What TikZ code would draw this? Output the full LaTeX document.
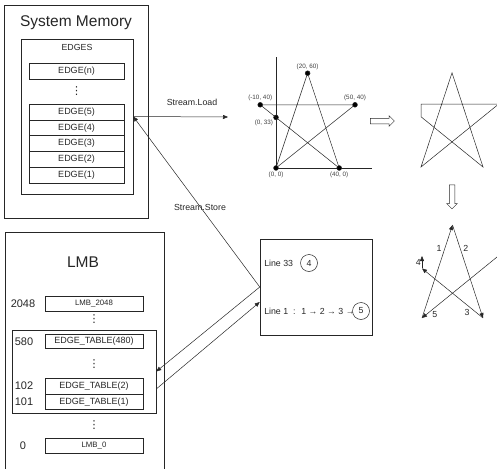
\documentclass[tikz,border=0pt]{standalone}
\usepackage{fontspec}
\setmainfont{Liberation Sans}
\newfontfamily\simbolos{DejaVu Sans}
\usetikzlibrary{arrows.meta,shapes.arrows}

\begin{document}
\begin{tikzpicture}[x=1pt,y=-1pt,line width=.5pt,color=black!85]
% Estilos
\tikzset{caixa/.style={draw,minimum width=95pt,minimum height=15.8pt,inner sep=0pt,font=\fontsize{9}{10}\selectfont},
  moldura/.style={draw,inner sep=0pt},
  titulo/.style={font=\fontsize{15.5}{18}\selectfont},
  texto/.style={font=\fontsize{8.8}{10}\selectfont,inner sep=1pt},
  numero/.style={font=\fontsize{11}{12}\selectfont},
  pontos/.style={inner sep=0pt,font=\simbolos\fontsize{11}{11}\selectfont},
  black vertex/.style={circle,draw,minimum size=1.7mm,inner sep=0pt,outer sep=0pt,fill=black},
  rotulo/.style={font=\fontsize{6.3}{7}\selectfont,inner sep=1pt,text=black!75},
  circulo/.style={circle,draw,minimum size=17pt,inner sep=0pt,font=\fontsize{8.8}{10}\selectfont},
  seta/.style={-{Triangle[length=5pt,width=4pt]}},
  oca/.style={single arrow,draw,minimum height=24pt,inner xsep=0pt,inner ysep=2.5pt,single arrow head extend=2.5pt}}

\useasboundingbox (0,0) rectangle (497,468);

% Memória do sistema
\node[moldura,minimum width=144pt,minimum height=213pt] (memoria) at (76,111.5) {};
\node[titulo] (tmem) at (76,23) {System Memory};
\node[moldura,minimum width=112pt,minimum height=155pt] (edges) at (77,116.5) {};
\node[texto] (tedges) at (77,47) {EDGES};
\node[caixa] (en) at (76.5,71.5) {EDGE(n)};
\node[pontos] (d1) at (76.5,91.5) {⋮};
\foreach \i in {5,...,1}
  \node[caixa] (e\i) at (76.5,{111.9+(5-\i)*15.8}) {EDGE(\i)};

% LMB
\node[moldura,minimum width=159pt,minimum height=250pt] (lmb) at (84.5,357) {};
\node[titulo] (tlmb) at (83,262) {LMB};
\node[moldura,minimum width=144pt,minimum height=83pt] (tabela) at (84,371.5) {};
\node[numero] (n2048) at (23,303.5) {2048};
\node[numero] (n580) at (24,341.5) {580};
\node[numero] (n102) at (24,386) {102};
\node[numero] (n101) at (24,401.5) {101};
\node[numero] (n0) at (23,445.5) {0};
\node[caixa,minimum width=98pt,minimum height=15pt,font=\fontsize{7.8}{9}\selectfont] (lmbtop) at (94,303.5) {LMB\_2048};
\node[pontos] (d2) at (94,319) {⋮};
\node[caixa,minimum width=98pt,minimum height=14pt] (t480) at (94,341.5) {EDGE\_TABLE(480)};
\node[pontos] (d3) at (94,364) {⋮};
\node[caixa,minimum width=98pt,minimum height=16pt] (t2) at (94,386) {EDGE\_TABLE(2)};
\node[caixa,minimum width=98pt,minimum height=15.5pt] (t1) at (94,401.7) {EDGE\_TABLE(1)};
\node[pontos] (d4) at (94,425) {⋮};
\node[caixa,minimum width=98pt,minimum height=15pt,font=\fontsize{7.8}{9}\selectfont] (lmb0) at (94,445.5) {LMB\_0};

% Caixa das linhas
\node[moldura,minimum width=112pt,minimum height=96pt] (linha) at (316,287) {};
\node[texto,anchor=west] (l33) at (263,263) {Line 33};
\node[circulo] (c4) at (309,263) {4};
\node[texto,anchor=west] (l1) at (263,311) {Line 1 \ : \ 1 → 2 → 3 →};
\node[circulo] (c5) at (361,311) {5};

% Conexões
\coordinate (carga) at (228,117);
\draw[seta] (edges.east) -- (carga);
\node[texto] (tload) at (192,102) {Stream.Load};
\draw[seta] (linha.west) -- (edges.east);
\node[texto] (tstore) at (200,207) {Stream.Store};
\draw[seta] (linha.west) -- (tabela.east);
\draw[seta] ([yshift=-17.5pt]tabela.east) -- ([yshift=-15pt]linha.west);

% Grafo com coordenadas
\begin{scope}[shift={(276,168)},x=1.58pt,y=1.58pt]
\draw (0,70) -- (0,0) -- (61,0);
\node[black vertex,label={[rotulo]below:(0, 0)}] (p0) at (0,0) {};
\node[black vertex,label={[rotulo]above:(20, 60)}] (p1) at (20,60) {};
\node[black vertex,label={[rotulo]below:(40, 0)}] (p2) at (40,0) {};
\node[black vertex,label={[rotulo]above:(-10, 40)}] (p3) at (-10,40) {};
\node[black vertex,label={[rotulo]above:(50, 40)}] (p4) at (50,40) {};
\node[black vertex,label={[rotulo]below left:(0, 33)}] (p5) at (0,32) {};
\draw (p0) -- (p1) -- (p2) -- (p3) -- (p4) -- (p0);
\end{scope}

\node[oca] (dir) at (381,121) {};
\node[oca,rotate=-90] (baixo) at (452,195.5) {};

% Estrela recortada
\begin{scope}[shift={(421,167)},x=1.55pt,y=1.57pt]
\draw (0,0) -- (20,60) -- (40,0) -- (0,32) -- (0,40) -- (50,40) -- cycle;
\end{scope}

% Ordem do percurso
\begin{scope}[shift={(422,318)},x=1.525pt,y=1.55pt]
\coordinate (q0) at (0,0);
\coordinate (q1) at (20,60);
\coordinate (q2) at (40,0);
\coordinate (q3) at (0,32);
\coordinate (q4) at (0,40);
\coordinate (q5) at (50,40);
\draw[seta] (q0) -- node[texto,pos=.75,left=2pt] {1} (q1);
\draw[seta] (q1) -- node[texto,pos=.25,right=2pt] {2} (q2);
\draw[seta] (q2) -- node[texto,pos=.2,below left=0pt] {3} (q3);
\draw[seta] (q3) -- node[texto,left=0pt] {4} (q4);
\draw[seta] (q5) -- node[texto,pos=.88,below right=0pt] {5} (q0);
\end{scope}

\end{tikzpicture}
\end{document}
